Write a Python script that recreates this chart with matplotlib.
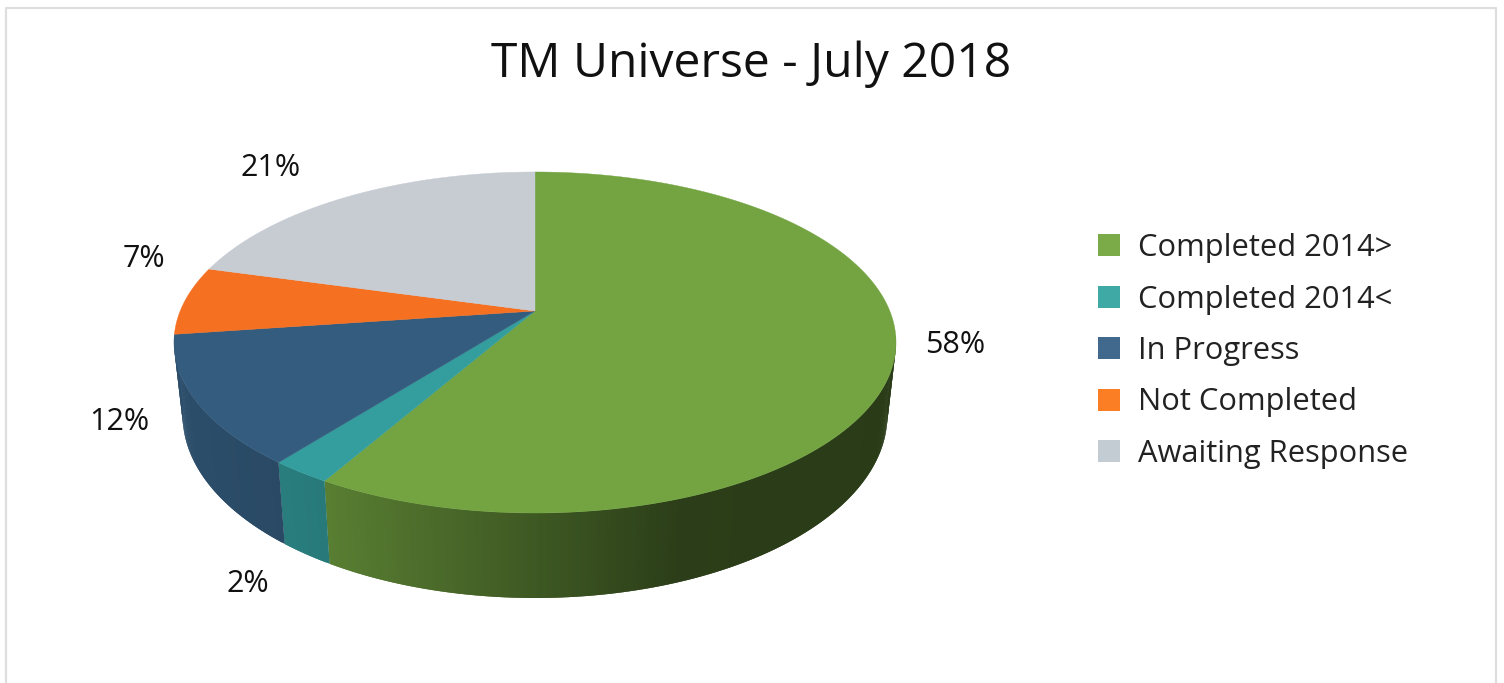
import numpy as np
import matplotlib
matplotlib.use("Agg")
import matplotlib.pyplot as plt
from matplotlib.patches import Patch

title = "TM Universe - July 2018"
categories = ["Completed 2014>", "Completed 2014<", "In Progress", "Not Completed", "Awaiting Response"]
values = [58.3, 2.3, 12.2, 6.5, 20.7]
pct_labels = ["58%", "2%", "12%", "7%", "21%"]

top_colors = ["#73a441", "#349e9e", "#345c7e", "#f57020", "#c7ccd3"]
legend_colors = ["#7aab48", "#3fa9a5", "#41698e", "#fb7d24", "#c3cbd3"]
label_pos = [(955, 345), (248, 584), (119, 422), (144, 259), (271, 168)]

plt.rcParams['font.family'] = ['Open Sans', 'DejaVu Sans']

# pie seen in perspective: unit circle projected around the apex
APEX_X, APEX_Y = 535, 311
A, B, K = 354.8, 164.7, 0.1847


def rim(deg):
    t = np.radians(deg)
    u, v = np.sin(t), np.cos(t)
    w = 1 + K * v
    return APEX_X + A * u / w, APEX_Y - B * v / w


def lower(x, y):
    return APEX_X + (x - APEX_X) * 0.976, 415 + 1.07 * (y - 342)


def shade(x):
    return np.interp((x - APEX_X) / 361, [-1, -0.58, 0.4, 1], [0.85, 0.77, 0.38, 0.36])


fig = plt.figure(figsize=(15.04, 6.83), dpi=100)
ax = fig.add_axes([0, 0, 1, 1])
ax.set_xlim(0, 1504)
ax.set_ylim(683, 0)
ax.axis("off")

# frame, open at the bottom
ax.plot([6, 6, 1495.5, 1495.5], [683, 8.3, 8.3, 683], color="#dedede", lw=1.6)

edges = np.concatenate([[0], np.cumsum(values)]) / sum(values) * 360

# side wall first, the top covers the rest
for i, c in enumerate(top_colors):
    steps = np.arange(edges[i], edges[i + 1], 0.5)
    base = np.array(matplotlib.colors.to_rgb(c))
    for a0 in steps:
        # overlap the next strip so no seams show
        a1 = min(a0 + 1.0, edges[i + 1])
        if np.cos(np.radians(a0 + 0.25)) > -0.14:
            continue
        x0, y0 = rim(a0)
        x1, y1 = rim(a1)
        bx0, by0 = lower(x0, y0)
        bx1, by1 = lower(x1, y1)
        col = base * shade(rim(a0 + 0.25)[0])
        ax.fill([x0, x1, bx1, bx0], [y0, y1, by1, by0], color=col, lw=0)

for i, c in enumerate(top_colors):
    rx, ry = rim(np.linspace(edges[i], edges[i + 1], 200))
    ax.fill(np.r_[APEX_X, rx], np.r_[APEX_Y, ry], color=c, lw=0.3)

for lab, (x, y) in zip(pct_labels, label_pos):
    ax.text(x, y, lab, fontsize=22, ha="center", va="center", color="#111111")

ax.text(751, 64, title, fontsize=34.6, ha="center", va="center", color="#111111")

handles = [Patch(facecolor=c, label=n) for c, n in zip(legend_colors, categories)]
ax.legend(handles=handles, loc="center left", bbox_to_anchor=(1098, 351),
          bbox_transform=ax.transData, frameon=False, fontsize=22.2,
          handlelength=0.71, handleheight=0.71, handletextpad=0.58,
          labelspacing=0.695, labelcolor="#222222", borderpad=0, borderaxespad=0)

plt.savefig("out.png", dpi=100)
